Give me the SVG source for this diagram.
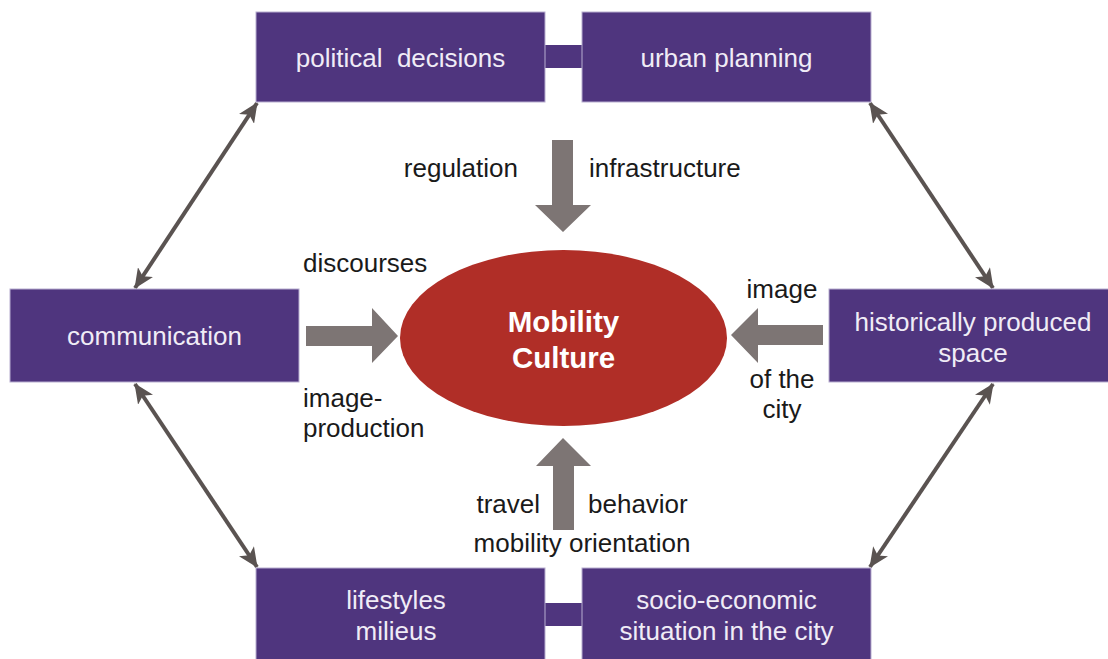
<svg xmlns="http://www.w3.org/2000/svg" width="1108" height="659" viewBox="0 0 1108 659">
<defs>
<style>
.box{fill:#4f357e;stroke:#b8aed0;stroke-width:1}
.bt{font-family:"Liberation Sans",Arial,sans-serif;font-size:26px;fill:#f0ecf6;text-anchor:middle}
.lb{font-family:"Liberation Sans",Arial,sans-serif;font-size:26px;fill:#1a1a1a}
.big{fill:#7d7574}
.con{stroke:#5a5351;stroke-width:4;fill:none;marker-start:url(#ah);marker-end:url(#ah)}
</style>
<marker id="ah" viewBox="0 0 20 18" refX="19" refY="9" markerWidth="20" markerHeight="18" markerUnits="userSpaceOnUse" orient="auto-start-reverse">
<path d="M0,0 L20,9 L0,18 L5,9 Z" fill="#5a5351"/>
</marker>
</defs>
<rect width="1108" height="659" fill="#ffffff"/>

<g id="connectors">
<path class="con" d="M135,288 L257,103"/>
<path class="con" d="M993,288 L870,103"/>
<path class="con" d="M135,384 L257,567"/>
<path class="con" d="M993,384 L870,567"/>
</g>

<g id="top-link"><rect x="544" y="45" width="39" height="23" fill="#4f357e"/></g>
<g id="bottom-link"><rect x="544" y="603" width="39" height="23" fill="#4f357e"/></g>

<g id="political-decisions">
<rect class="box" x="256" y="12" width="289" height="90"/>
<text class="bt" x="400.5" y="67" xml:space="preserve">political  decisions</text>
</g>
<g id="urban-planning">
<rect class="box" x="582" y="12" width="289" height="90"/>
<text class="bt" x="726.5" y="67">urban planning</text>
</g>
<g id="communication">
<rect class="box" x="10" y="289" width="289" height="93"/>
<text class="bt" x="154.5" y="345">communication</text>
</g>
<g id="historically-produced-space">
<rect class="box" x="829" y="289" width="285" height="93"/>
<text class="bt" x="973" y="331">historically produced</text>
<text class="bt" x="973" y="362">space</text>
</g>
<g id="lifestyles-milieus">
<rect class="box" x="256" y="568" width="289" height="96"/>
<text class="bt" x="396" y="609">lifestyles</text>
<text class="bt" x="396" y="640">milieus</text>
</g>
<g id="socio-economic">
<rect class="box" x="582" y="568" width="289" height="96"/>
<text class="bt" x="726.5" y="609">socio-economic</text>
<text class="bt" x="726.5" y="640">situation in the city</text>
</g>

<g id="mobility-culture">
<ellipse cx="563.5" cy="338" rx="163.5" ry="88" fill="#b02e27"/>
<text x="563.5" y="332" font-family="Liberation Sans,Arial,sans-serif" font-size="29.5" font-weight="bold" fill="#ffffff" text-anchor="middle">Mobility</text>
<text x="563.5" y="368" font-family="Liberation Sans,Arial,sans-serif" font-size="29.5" font-weight="bold" fill="#ffffff" text-anchor="middle">Culture</text>
</g>

<g id="big-arrows">
<path class="big" d="M552,140 L573,140 L573,205 L591,205 L563,232 L535,205 L552,205 Z"/>
<path class="big" d="M553,530 L574,530 L574,466 L591,466 L563,438 L536,466 L553,466 Z"/>
<path class="big" d="M306,326 L372,326 L372,308 L398,336 L372,363 L372,346 L306,346 Z"/>
<path class="big" d="M823,325 L758,325 L758,308 L731,335 L758,363 L758,345 L823,345 Z"/>
</g>

<g id="labels">
<text class="lb" x="518" y="177" text-anchor="end">regulation</text>
<text class="lb" x="589" y="177">infrastructure</text>
<text class="lb" x="303" y="272">discourses</text>
<text class="lb" x="303" y="407">image-</text>
<text class="lb" x="303" y="437">production</text>
<text class="lb" x="782" y="298" text-anchor="middle">image</text>
<text class="lb" x="782" y="388" text-anchor="middle">of the</text>
<text class="lb" x="782" y="418" text-anchor="middle">city</text>
<text class="lb" x="540" y="513" text-anchor="end">travel</text>
<text class="lb" x="588" y="513">behavior</text>
<text class="lb" x="582" y="552" text-anchor="middle">mobility orientation</text>
</g>
</svg>
